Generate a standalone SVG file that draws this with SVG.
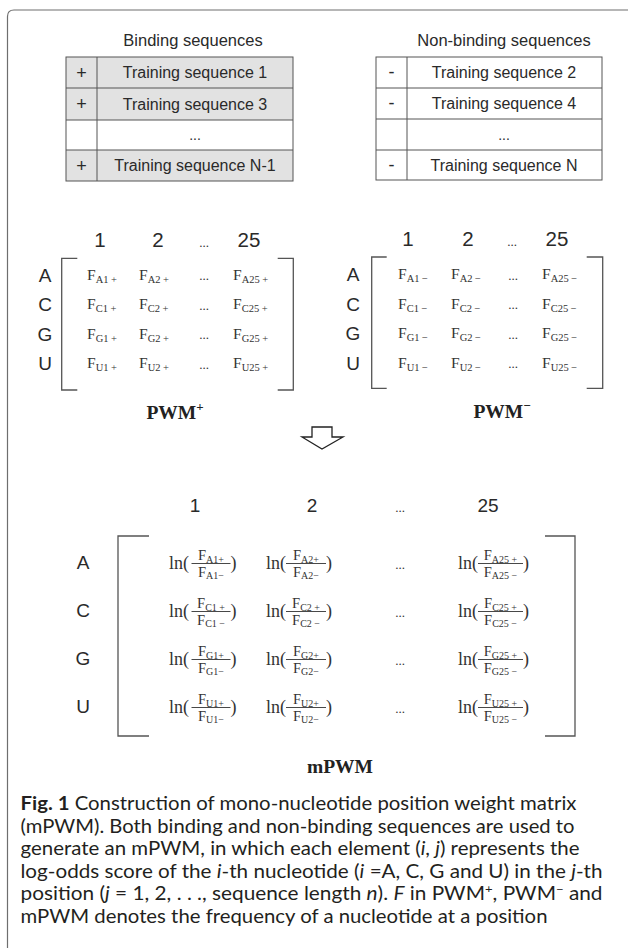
<svg xmlns="http://www.w3.org/2000/svg" width="628" height="948" viewBox="0 0 628 948">
<style>
.frame{fill:none;stroke:#6e6e6e;stroke-width:1.2}
.tl{stroke:#555;stroke-width:1}
.sans{font-family:"Liberation Sans",Arial,sans-serif;fill:#2a2a2a}
.hdr{font-size:16.5px}
.cell{font-size:16px}
.pm{font-size:18px}
.lbl{font-size:19px}
.num{font-size:20.5px}
.math{font-family:"Liberation Serif","Times New Roman",serif;fill:#333}
.F{font-size:15.5px}
.F2{font-size:14.5px}
.sub{font-size:10.5px}
.sub2{font-size:10px}
.ln{font-size:18px}
.dots{font-size:13px}
.brk{fill:none;stroke:#555;stroke-width:1.3}
.bar{stroke:#333;stroke-width:0.9}
.title{font-family:"Liberation Serif","Times New Roman",serif;font-weight:bold;font-size:19.5px;fill:#222}
.cap{font-family:Lato,"Open Sans",sans-serif;font-size:19px;fill:#231f20}
.arrow{fill:#fff;stroke:#222;stroke-width:1.3;stroke-linejoin:miter}
</style>

<path class="frame" d="M628 10 H14 Q7.5 10 7.5 16.5 V948"/>

<g id="binding-table">
  <text class="sans hdr" x="193" y="46" text-anchor="middle">Binding sequences</text>
  <rect x="66" y="57" width="227" height="31" fill="#e2e2e2"/>
  <rect x="66" y="88" width="227" height="32" fill="#e2e2e2"/>
  <rect x="66" y="120" width="227" height="30" fill="#fff"/>
  <rect x="66" y="150" width="227" height="31" fill="#e2e2e2"/>
  <rect x="66" y="57" width="227" height="124" fill="none" class="tl"/>
  <line class="tl" x1="97" y1="57" x2="97" y2="181"/>
  <line class="tl" x1="66" y1="88" x2="293" y2="88"/>
  <line class="tl" x1="66" y1="120" x2="293" y2="120"/>
  <line class="tl" x1="66" y1="150" x2="293" y2="150"/>
  <g class="sans cell" text-anchor="middle">
    <text class="pm" x="81.5" y="79">+</text>
    <text x="195" y="78">Training sequence 1</text>
    <text class="pm" x="81.5" y="110">+</text>
    <text x="195" y="110">Training sequence 3</text>
    <text x="195" y="140" style="font-size:14px">...</text>
    <text class="pm" x="81.5" y="172">+</text>
    <text x="195" y="171">Training sequence N-1</text>
  </g>
</g>

<g id="nonbinding-table">
  <text class="sans hdr" x="504" y="46" text-anchor="middle">Non-binding sequences</text>
  <rect x="376" y="57" width="226" height="123" fill="#fff" class="tl"/>
  <line class="tl" x1="407" y1="57" x2="407" y2="180"/>
  <line class="tl" x1="376" y1="88" x2="602" y2="88"/>
  <line class="tl" x1="376" y1="119" x2="602" y2="119"/>
  <line class="tl" x1="376" y1="150" x2="602" y2="150"/>
  <g class="sans cell" text-anchor="middle">
    <text class="pm" x="391.5" y="78">-</text>
    <text x="504" y="78">Training sequence 2</text>
    <text class="pm" x="391.5" y="109">-</text>
    <text x="504" y="109">Training sequence 4</text>
    <text x="504" y="140" style="font-size:14px">...</text>
    <text class="pm" x="391.5" y="171">-</text>
    <text x="504" y="171">Training sequence N</text>
  </g>
</g>

<g id="pwm-plus">
  <g class="sans num" text-anchor="middle">
    <text x="100" y="247">1</text><text x="158" y="247">2</text><text x="249" y="247">25</text>
  </g>
  <text class="math dots" x="204" y="247" text-anchor="middle">...</text>
  <g class="sans lbl" text-anchor="middle">
    <text x="45" y="281.5">A</text><text x="45" y="311">C</text><text x="45" y="340.5">G</text><text x="45" y="370">U</text>
  </g>
  <path class="brk" d="M77.3 258.3 H61.7 V390 H77.3 M277.7 258.3 H293.3 V390 H277.7"/>
  <g class="math F">
    <text x="87" y="279.5">F<tspan class="sub" dy="3">A1 +</tspan></text>
    <text x="139" y="279.5">F<tspan class="sub" dy="3">A2 +</tspan></text>
    <text x="233" y="279.5">F<tspan class="sub" dy="3">A25 +</tspan></text>
    <text x="87" y="309">F<tspan class="sub" dy="3">C1 +</tspan></text>
    <text x="139" y="309">F<tspan class="sub" dy="3">C2 +</tspan></text>
    <text x="233" y="309">F<tspan class="sub" dy="3">C25 +</tspan></text>
    <text x="87" y="338.5">F<tspan class="sub" dy="3">G1 +</tspan></text>
    <text x="139" y="338.5">F<tspan class="sub" dy="3">G2 +</tspan></text>
    <text x="233" y="338.5">F<tspan class="sub" dy="3">G25 +</tspan></text>
    <text x="87" y="368">F<tspan class="sub" dy="3">U1 +</tspan></text>
    <text x="139" y="368">F<tspan class="sub" dy="3">U2 +</tspan></text>
    <text x="233" y="368">F<tspan class="sub" dy="3">U25 +</tspan></text>
  </g>
  <g class="math dots" text-anchor="middle">
    <text x="204" y="280">...</text><text x="204" y="310">...</text><text x="204" y="339">...</text><text x="204" y="369">...</text>
  </g>
  <text class="title" x="175" y="419" text-anchor="middle">PWM<tspan font-size="13" dy="-8">+</tspan></text>
</g>

<g id="pwm-minus">
  <g class="sans num" text-anchor="middle">
    <text x="408" y="246">1</text><text x="468" y="246">2</text><text x="557" y="246">25</text>
  </g>
  <text class="math dots" x="512" y="246" text-anchor="middle">...</text>
  <g class="sans lbl" text-anchor="middle">
    <text x="353" y="281">A</text><text x="353" y="310.5">C</text><text x="353" y="340">G</text><text x="353" y="369.5">U</text>
  </g>
  <path class="brk" d="M386.7 257 H371.7 V388.3 H386.7 M586.7 257 H602.7 V388.3 H586.7"/>
  <g class="math F">
    <text x="398" y="279">F<tspan class="sub" dy="3">A1 −</tspan></text>
    <text x="451" y="279">F<tspan class="sub" dy="3">A2 −</tspan></text>
    <text x="542" y="279">F<tspan class="sub" dy="3">A25 −</tspan></text>
    <text x="398" y="308.5">F<tspan class="sub" dy="3">C1 −</tspan></text>
    <text x="451" y="308.5">F<tspan class="sub" dy="3">C2 −</tspan></text>
    <text x="542" y="308.5">F<tspan class="sub" dy="3">C25 −</tspan></text>
    <text x="398" y="338">F<tspan class="sub" dy="3">G1 −</tspan></text>
    <text x="451" y="338">F<tspan class="sub" dy="3">G2 −</tspan></text>
    <text x="542" y="338">F<tspan class="sub" dy="3">G25 −</tspan></text>
    <text x="398" y="367.5">F<tspan class="sub" dy="3">U1 −</tspan></text>
    <text x="451" y="367.5">F<tspan class="sub" dy="3">U2 −</tspan></text>
    <text x="542" y="367.5">F<tspan class="sub" dy="3">U25 −</tspan></text>
  </g>
  <g class="math dots" text-anchor="middle">
    <text x="513" y="280">...</text><text x="513" y="309">...</text><text x="513" y="339">...</text><text x="513" y="368">...</text>
  </g>
  <text class="title" x="502" y="418" text-anchor="middle">PWM<tspan font-size="13" dy="-8">−</tspan></text>
</g>

<g id="arrow">
  <polygon class="arrow" points="312,427 332,427 332,437 343,437 322,449 302,437 312,437"/>
</g>

<g id="mpwm">
  <g class="sans lbl" text-anchor="middle">
    <text x="195" y="512">1</text><text x="312" y="512">2</text><text x="488" y="512">25</text>
  </g>
  <text class="math dots" x="400" y="512" text-anchor="middle">...</text>
  <g class="sans lbl" text-anchor="middle">
    <text x="83" y="569">A</text><text x="83" y="617">C</text><text x="83" y="665">G</text><text x="83" y="713">U</text>
  </g>
  <path class="brk" d="M149 536 H118 V736 H149 M545 536 H575 V736 H545"/>

  <!-- row A -->
  <g class="math" transform="translate(0,9)">
    <text class="ln" x="169" y="560">ln(</text>
    <text class="F2" x="211" y="551" text-anchor="middle">F<tspan class="sub2" dy="2.5">A1+</tspan></text>
    <line class="bar" x1="191.5" y1="554.5" x2="230.5" y2="554.5"/>
    <text class="F2" x="211" y="567.5" text-anchor="middle">F<tspan class="sub2" dy="2.5">A1−</tspan></text>
    <text class="ln" x="230.5" y="560">)</text>

    <text class="ln" x="266" y="560">ln(</text>
    <text class="F2" x="306" y="551" text-anchor="middle">F<tspan class="sub2" dy="2.5">A2+</tspan></text>
    <line class="bar" x1="286" y1="554.5" x2="326" y2="554.5"/>
    <text class="F2" x="306" y="567.5" text-anchor="middle">F<tspan class="sub2" dy="2.5">A2−</tspan></text>
    <text class="ln" x="326" y="560">)</text>

    <text class="ln" x="458" y="560">ln(</text>
    <text class="F2" x="500.5" y="551" text-anchor="middle">F<tspan class="sub2" dy="2.5">A25 +</tspan></text>
    <line class="bar" x1="478" y1="554.5" x2="523" y2="554.5"/>
    <text class="F2" x="500.5" y="567.5" text-anchor="middle">F<tspan class="sub2" dy="2.5">A25 −</tspan></text>
    <text class="ln" x="523" y="560">)</text>
    <text class="dots" x="400" y="560" text-anchor="middle">...</text>
  </g>
  <!-- row C -->
  <g class="math" transform="translate(0,57)">
    <text class="ln" x="169" y="560">ln(</text>
    <text class="F2" x="211" y="551" text-anchor="middle">F<tspan class="sub2" dy="2.5">C1 +</tspan></text>
    <line class="bar" x1="191.5" y1="554.5" x2="230.5" y2="554.5"/>
    <text class="F2" x="211" y="567.5" text-anchor="middle">F<tspan class="sub2" dy="2.5">C1 −</tspan></text>
    <text class="ln" x="230.5" y="560">)</text>

    <text class="ln" x="266" y="560">ln(</text>
    <text class="F2" x="306" y="551" text-anchor="middle">F<tspan class="sub2" dy="2.5">C2 +</tspan></text>
    <line class="bar" x1="286" y1="554.5" x2="326" y2="554.5"/>
    <text class="F2" x="306" y="567.5" text-anchor="middle">F<tspan class="sub2" dy="2.5">C2 −</tspan></text>
    <text class="ln" x="326" y="560">)</text>

    <text class="ln" x="458" y="560">ln(</text>
    <text class="F2" x="500.5" y="551" text-anchor="middle">F<tspan class="sub2" dy="2.5">C25 +</tspan></text>
    <line class="bar" x1="478" y1="554.5" x2="523" y2="554.5"/>
    <text class="F2" x="500.5" y="567.5" text-anchor="middle">F<tspan class="sub2" dy="2.5">C25 −</tspan></text>
    <text class="ln" x="523" y="560">)</text>
    <text class="dots" x="400" y="560" text-anchor="middle">...</text>
  </g>
  <!-- row G -->
  <g class="math" transform="translate(0,105)">
    <text class="ln" x="169" y="560">ln(</text>
    <text class="F2" x="211" y="551" text-anchor="middle">F<tspan class="sub2" dy="2.5">G1+</tspan></text>
    <line class="bar" x1="191.5" y1="554.5" x2="230.5" y2="554.5"/>
    <text class="F2" x="211" y="567.5" text-anchor="middle">F<tspan class="sub2" dy="2.5">G1−</tspan></text>
    <text class="ln" x="230.5" y="560">)</text>

    <text class="ln" x="266" y="560">ln(</text>
    <text class="F2" x="306" y="551" text-anchor="middle">F<tspan class="sub2" dy="2.5">G2+</tspan></text>
    <line class="bar" x1="286" y1="554.5" x2="326" y2="554.5"/>
    <text class="F2" x="306" y="567.5" text-anchor="middle">F<tspan class="sub2" dy="2.5">G2−</tspan></text>
    <text class="ln" x="326" y="560">)</text>

    <text class="ln" x="458" y="560">ln(</text>
    <text class="F2" x="500.5" y="551" text-anchor="middle">F<tspan class="sub2" dy="2.5">G25 +</tspan></text>
    <line class="bar" x1="478" y1="554.5" x2="523" y2="554.5"/>
    <text class="F2" x="500.5" y="567.5" text-anchor="middle">F<tspan class="sub2" dy="2.5">G25 −</tspan></text>
    <text class="ln" x="523" y="560">)</text>
    <text class="dots" x="400" y="560" text-anchor="middle">...</text>
  </g>
  <!-- row U -->
  <g class="math" transform="translate(0,153)">
    <text class="ln" x="169" y="560">ln(</text>
    <text class="F2" x="211" y="551" text-anchor="middle">F<tspan class="sub2" dy="2.5">U1+</tspan></text>
    <line class="bar" x1="191.5" y1="554.5" x2="230.5" y2="554.5"/>
    <text class="F2" x="211" y="567.5" text-anchor="middle">F<tspan class="sub2" dy="2.5">U1−</tspan></text>
    <text class="ln" x="230.5" y="560">)</text>

    <text class="ln" x="266" y="560">ln(</text>
    <text class="F2" x="306" y="551" text-anchor="middle">F<tspan class="sub2" dy="2.5">U2+</tspan></text>
    <line class="bar" x1="286" y1="554.5" x2="326" y2="554.5"/>
    <text class="F2" x="306" y="567.5" text-anchor="middle">F<tspan class="sub2" dy="2.5">U2−</tspan></text>
    <text class="ln" x="326" y="560">)</text>

    <text class="ln" x="458" y="560">ln(</text>
    <text class="F2" x="500.5" y="551" text-anchor="middle">F<tspan class="sub2" dy="2.5">U25 +</tspan></text>
    <line class="bar" x1="478" y1="554.5" x2="523" y2="554.5"/>
    <text class="F2" x="500.5" y="567.5" text-anchor="middle">F<tspan class="sub2" dy="2.5">U25 −</tspan></text>
    <text class="ln" x="523" y="560">)</text>
    <text class="dots" x="400" y="560" text-anchor="middle">...</text>
  </g>
  <text class="title" x="340" y="773" text-anchor="middle">mPWM</text>
</g>

<g id="caption" class="cap">
  <text x="20.5" y="810" textLength="556" lengthAdjust="spacingAndGlyphs"><tspan font-weight="bold">Fig. 1</tspan> Construction of mono-nucleotide position weight matrix</text>
  <text x="20.5" y="832.5" textLength="554" lengthAdjust="spacingAndGlyphs">(mPWM). Both binding and non-binding sequences are used to</text>
  <text x="20.5" y="855" textLength="559" lengthAdjust="spacingAndGlyphs">generate an mPWM, in which each element (<tspan font-style="italic">i</tspan>, <tspan font-style="italic">j</tspan>) represents the</text>
  <text x="20.5" y="877.5" textLength="582" lengthAdjust="spacingAndGlyphs">log-odds score of the <tspan font-style="italic">i</tspan>-th nucleotide (<tspan font-style="italic">i</tspan> =A, C, G and U) in the <tspan font-style="italic">j</tspan>-th</text>
  <text x="20.5" y="900" textLength="582" lengthAdjust="spacingAndGlyphs">position (<tspan font-style="italic">j</tspan> = 1, 2, . . ., sequence length <tspan font-style="italic">n</tspan>). <tspan font-style="italic">F</tspan> in PWM<tspan font-size="12" dy="-7">+</tspan><tspan dy="7">, PWM</tspan><tspan font-size="12" dy="-7">−</tspan><tspan dy="7"> and</tspan></text>
  <text x="20.5" y="922.5" textLength="527" lengthAdjust="spacingAndGlyphs">mPWM denotes the frequency of a nucleotide at a position</text>
</g>
</svg>
